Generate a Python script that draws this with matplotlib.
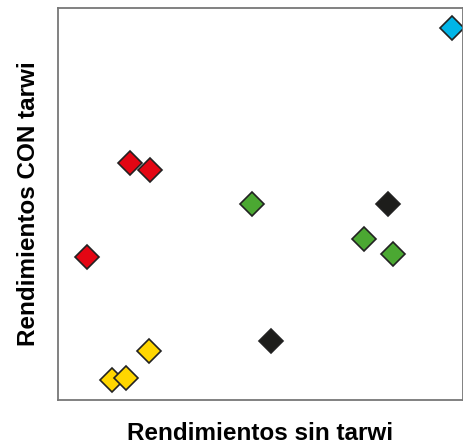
import matplotlib.pyplot as plt

plt.rcParams["font.family"] = ["Liberation Sans", "DejaVu Sans"]

# values (arbitrary 0-100 scale, no ticks shown)
groups = ["cyan", "red", "green", "black", "yellow"]
x_vals = {
    "cyan": [97.3],
    "red": [17.8, 22.7, 7.2],
    "green": [47.9, 75.6, 82.7],
    "black": [81.5, 52.6],
    "yellow": [22.5, 13.3, 16.8],
}
y_vals = {
    "cyan": [94.9],
    "red": [60.5, 58.7, 36.5],
    "green": [50.0, 41.1, 37.2],
    "black": [50.0, 15.1],
    "yellow": [12.5, 5.1, 5.6],
}
COLORS = {
    "cyan": "#00b5e8",
    "red": "#e30613",
    "green": "#4ba832",
    "black": "#1d1d1b",
    "yellow": "#ffd600",
}

fig = plt.figure(figsize=(4.64, 4.47), dpi=100)
ax = fig.add_axes([0.125, 0.105, 0.873, 0.877])

for g in groups:
    ax.plot(x_vals[g], y_vals[g], linestyle="none", marker="D", markersize=12,
            markerfacecolor=COLORS[g], markeredgecolor="#222222",
            markeredgewidth=1.2)

ax.set_xlim(0, 100)
ax.set_ylim(0, 100)
ax.set_xticks([])
ax.set_yticks([])
for s in ax.spines.values():
    s.set_color("#777777")
    s.set_linewidth(1.3)

ax.set_xlabel("Rendimientos sin tarwi", fontsize=17.5, fontweight="bold", labelpad=16)
ax.set_ylabel("Rendimientos CON tarwi", fontsize=17.5, fontweight="bold", labelpad=13)

fig.savefig("out.png", dpi=100)
